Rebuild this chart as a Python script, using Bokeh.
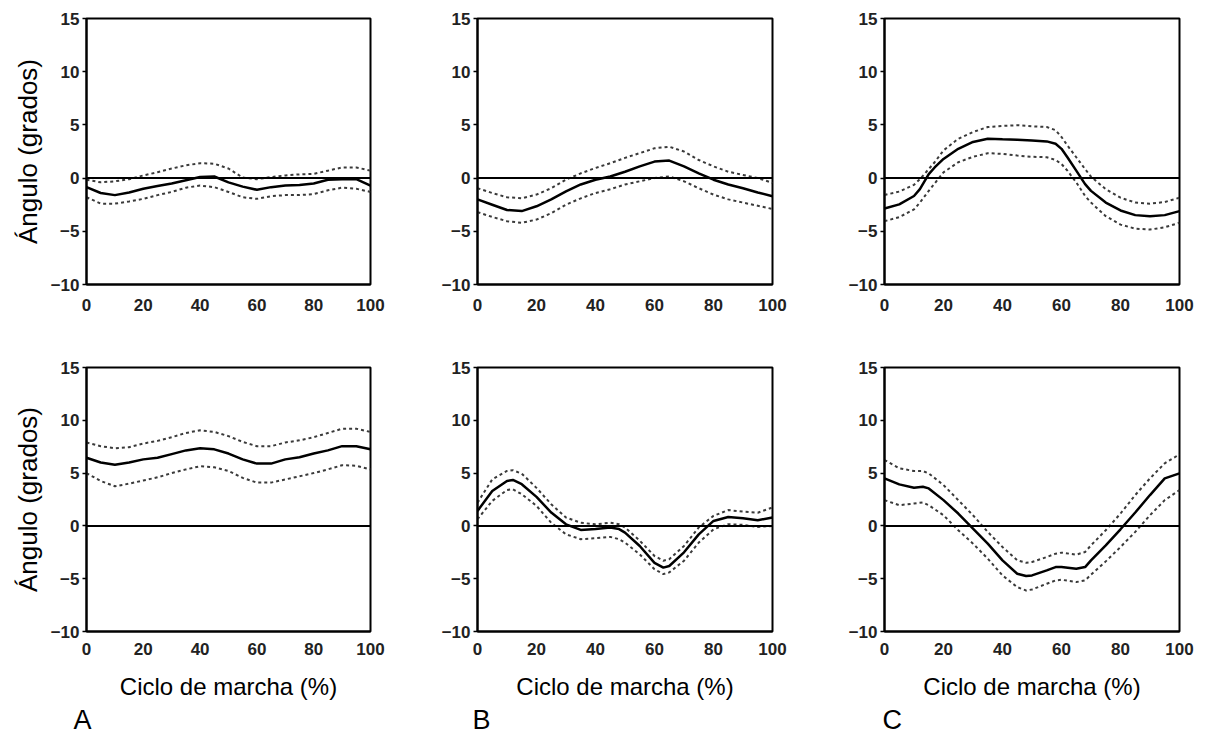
from bokeh.plotting import figure
from bokeh.layouts import row, column
from bokeh.models import Range1d, FixedTicker, Span, Title
from bokeh.embed import file_html
from bokeh.resources import INLINE

# ---------------- data ----------------
X = [0, 5, 10, 15, 20, 25, 30, 35, 40, 45, 50, 55, 60, 65, 70, 75, 80, 85, 90, 95, 100]

A1_mean  = [-0.85, -1.4, -1.6, -1.35, -1.0, -0.75, -0.5, -0.2, 0.1, 0.15, -0.4, -0.8, -1.1, -0.85, -0.7, -0.65, -0.5, -0.15, -0.1, -0.1, -0.7]
A1_upper = [-0.15, -0.4, -0.3, -0.1, 0.25, 0.55, 0.9, 1.2, 1.4, 1.35, 0.9, 0.05, -0.1, 0.1, 0.25, 0.35, 0.4, 0.7, 1.0, 1.0, 0.7]
A1_lower = [-1.8, -2.4, -2.4, -2.2, -1.95, -1.6, -1.3, -0.9, -0.7, -0.85, -1.3, -1.8, -1.95, -1.7, -1.6, -1.6, -1.5, -1.15, -0.9, -1.0, -1.3]

B1_mean  = [-2.0, -2.5, -3.0, -3.1, -2.65, -2.0, -1.25, -0.6, -0.15, 0.15, 0.6, 1.1, 1.55, 1.65, 1.1, 0.45, -0.15, -0.6, -0.95, -1.35, -1.7]
B1_upper = [-0.95, -1.4, -1.8, -1.9, -1.55, -0.95, -0.15, 0.45, 0.95, 1.4, 1.9, 2.35, 2.8, 2.95, 2.5, 1.7, 1.1, 0.6, 0.3, 0.0, -0.45]
B1_lower = [-3.2, -3.65, -4.05, -4.2, -3.9, -3.3, -2.5, -1.9, -1.4, -1.05, -0.6, -0.3, 0.0, 0.15, -0.3, -0.95, -1.55, -2.0, -2.3, -2.6, -2.9]

X_C1 = [0, 5, 10, 12, 15, 17, 20, 25, 30, 35, 40, 45, 50, 55, 58, 60, 62, 65, 68, 70, 75, 80, 85, 90, 95, 100]
C1_mean  = [-2.85, -2.47, -1.68, -1.04, 0.38, 1.0, 1.8, 2.75, 3.4, 3.7, 3.64, 3.6, 3.54, 3.45, 3.23, 2.75, 1.96, 0.7, -0.57, -1.2, -2.3, -3.04, -3.48, -3.58, -3.48, -3.1]
C1_upper = [-1.58, -1.27, -0.63, -0.1, 0.85, 1.49, 2.6, 3.7, 4.33, 4.8, 4.9, 4.97, 4.87, 4.8, 4.5, 3.86, 3.07, 1.96, 0.85, 0.13, -1.04, -1.84, -2.3, -2.4, -2.25, -1.84]
C1_lower = [-4.05, -3.67, -2.94, -2.3, -1.2, -0.5, 0.54, 1.49, 2.0, 2.34, 2.28, 2.12, 2.0, 1.96, 1.7, 1.33, 0.7, -0.4, -1.68, -2.3, -3.58, -4.37, -4.75, -4.84, -4.62, -4.2]

A2_mean  = [6.45, 6.0, 5.8, 6.0, 6.3, 6.45, 6.8, 7.15, 7.35, 7.25, 6.85, 6.3, 5.9, 5.9, 6.3, 6.5, 6.85, 7.15, 7.55, 7.55, 7.25]
A2_upper = [7.9, 7.55, 7.35, 7.45, 7.8, 8.05, 8.4, 8.8, 9.05, 8.9, 8.5, 7.95, 7.55, 7.55, 7.9, 8.1, 8.4, 8.8, 9.2, 9.2, 8.9]
A2_lower = [5.0, 4.25, 3.75, 4.0, 4.3, 4.6, 5.0, 5.35, 5.65, 5.55, 5.2, 4.55, 4.1, 4.1, 4.4, 4.7, 5.0, 5.35, 5.75, 5.7, 5.35]

X_B2 = [0, 5, 10, 12, 15, 20, 25, 30, 35, 40, 45, 48, 50, 55, 60, 63, 65, 70, 75, 80, 85, 90, 95, 100]
B2_mean  = [1.42, 3.3, 4.26, 4.35, 3.95, 2.75, 1.26, 0.15, -0.38, -0.3, -0.15, -0.3, -0.63, -1.9, -3.5, -3.95, -3.8, -2.5, -0.8, 0.47, 0.85, 0.72, 0.54, 0.8]
B2_upper = [2.2, 4.4, 5.2, 5.27, 4.95, 3.6, 2.05, 0.8, 0.3, 0.15, 0.3, 0.15, -0.15, -1.4, -2.85, -3.3, -3.15, -1.9, -0.15, 0.95, 1.5, 1.35, 1.25, 1.75]
B2_lower = [0.63, 2.37, 3.4, 3.47, 3.0, 1.9, 0.3, -0.8, -1.26, -1.17, -1.04, -1.26, -1.58, -2.7, -4.1, -4.57, -4.4, -3.3, -1.58, -0.32, 0.16, 0.1, -0.1, 0.0]

X_C2 = [0, 5, 10, 13, 15, 20, 25, 30, 35, 40, 45, 48, 50, 55, 58, 60, 65, 68, 70, 75, 80, 85, 90, 95, 100]
C2_mean  = [4.5, 3.93, 3.61, 3.7, 3.55, 2.44, 1.17, -0.25, -1.68, -3.26, -4.53, -4.75, -4.69, -4.21, -3.9, -3.9, -4.06, -3.9, -3.26, -1.84, -0.32, 1.27, 2.92, 4.5, 4.97]
C2_upper = [6.24, 5.45, 5.2, 5.2, 4.97, 3.87, 2.44, 1.01, -0.57, -2.0, -3.26, -3.49, -3.42, -2.95, -2.63, -2.53, -2.72, -2.47, -1.84, -0.41, 1.17, 2.92, 4.5, 5.93, 6.78]
C2_lower = [2.44, 1.96, 2.12, 2.22, 1.96, 1.01, -0.41, -1.68, -3.1, -4.69, -5.8, -6.12, -6.02, -5.48, -5.16, -5.1, -5.32, -5.16, -4.62, -3.36, -2.0, -0.57, 1.01, 2.44, 3.39]

X_TICKS = [0, 20, 40, 60, 80, 100]
Y_TICKS = [-10, -5, 0, 5, 10, 15]
Y_TICK_LABELS = {-10: "\u221210", -5: "\u22125", 0: "0", 5: "5", 10: "10", 15: "15"}
Y_LABEL = "Ángulo (grados)"
X_LABEL = "Ciclo de marcha (%)"
LETTERS = ["A", "B", "C"]

FONT = "Liberation Sans"


def panel(x, mean, upper, lower, fw, fh, bl, br, bt, bb, ylabel=None, xlabel=None,
          letter=None, letter_offset=0, xstand=14):
    p = figure(frame_width=fw, frame_height=fh, min_border_left=bl, min_border_right=br,
               min_border_top=bt, min_border_bottom=bb, output_backend="svg",
               toolbar_location=None, x_range=Range1d(0, 100), y_range=Range1d(-10, 15))
    p.background_fill_color = "white"
    p.border_fill_color = "white"
    p.outline_line_color = "black"
    p.outline_line_width = 2
    p.grid.visible = False

    p.add_layout(Span(location=0, dimension="width", line_color="black", line_width=2))
    p.line(x, upper, line_color="#3a3a3a", line_width=2, line_dash="3 3")
    p.line(x, lower, line_color="#3a3a3a", line_width=2, line_dash="3 3")
    p.line(x, mean, line_color="black", line_width=2.5)

    for ax in (p.xaxis[0], p.yaxis[0]):
        ax.axis_line_color = "black"
        ax.axis_line_width = 2
        ax.minor_tick_line_color = None
        ax.major_label_text_font = FONT
        ax.major_label_text_font_style = "bold"
        ax.major_label_text_font_size = "17px"
        ax.major_label_text_color = "#222222"
        ax.axis_label_text_font = FONT
        ax.axis_label_text_font_style = "normal"
        ax.axis_label_text_color = "black"

    p.xaxis.ticker = FixedTicker(ticks=X_TICKS)
    p.xaxis.major_tick_out = 0
    p.xaxis.major_tick_in = 0
    p.xaxis.major_label_standoff = xstand

    p.yaxis.ticker = FixedTicker(ticks=Y_TICKS)
    p.yaxis.major_label_overrides = Y_TICK_LABELS
    p.yaxis.major_tick_out = 4
    p.yaxis.major_tick_in = 0
    p.yaxis.major_tick_line_width = 1.5
    p.yaxis.major_label_standoff = 3

    if ylabel:
        p.yaxis.axis_label = ylabel
        p.yaxis.axis_label_text_font_size = "26px"
        p.yaxis.axis_label_standoff = 5
    if xlabel:
        p.xaxis.axis_label = xlabel
        p.xaxis.axis_label_text_font_size = "24px"
        p.xaxis.axis_label_standoff = 15
    if letter:
        p.add_layout(Title(text=letter, align="left", offset=letter_offset,
                           text_font=FONT, text_font_size="27px",
                           text_font_style="normal", text_color="black",
                           standoff=0), "below")
    return p


p1 = panel(X, A1_mean, A1_upper, A1_lower, 284, 266, 86, 62, 18, 60, ylabel=Y_LABEL)
p2 = panel(X, B1_mean, B1_upper, B1_lower, 295, 266, 45, 67, 18, 60)
p3 = panel(X_C1, C1_mean, C1_upper, C1_lower, 295, 266, 45, 20, 18, 60)

p4 = panel(X, A2_mean, A2_upper, A2_lower, 284, 264, 86, 62, 23, 20, ylabel=Y_LABEL,
           xlabel=X_LABEL, letter=LETTERS[0], letter_offset=-13, xstand=11)
p5 = panel(X_B2, B2_mean, B2_upper, B2_lower, 295, 264, 45, 67, 23, 20,
           xlabel=X_LABEL, letter=LETTERS[1], letter_offset=-5, xstand=11)
p6 = panel(X_C2, C2_mean, C2_upper, C2_lower, 295, 264, 45, 20, 23, 20,
           xlabel=X_LABEL, letter=LETTERS[2], letter_offset=-2, xstand=11)

layout = column(row(p1, p2, p3), row(p4, p5, p6))

open("out.html", "w").write(file_html(layout, INLINE))
